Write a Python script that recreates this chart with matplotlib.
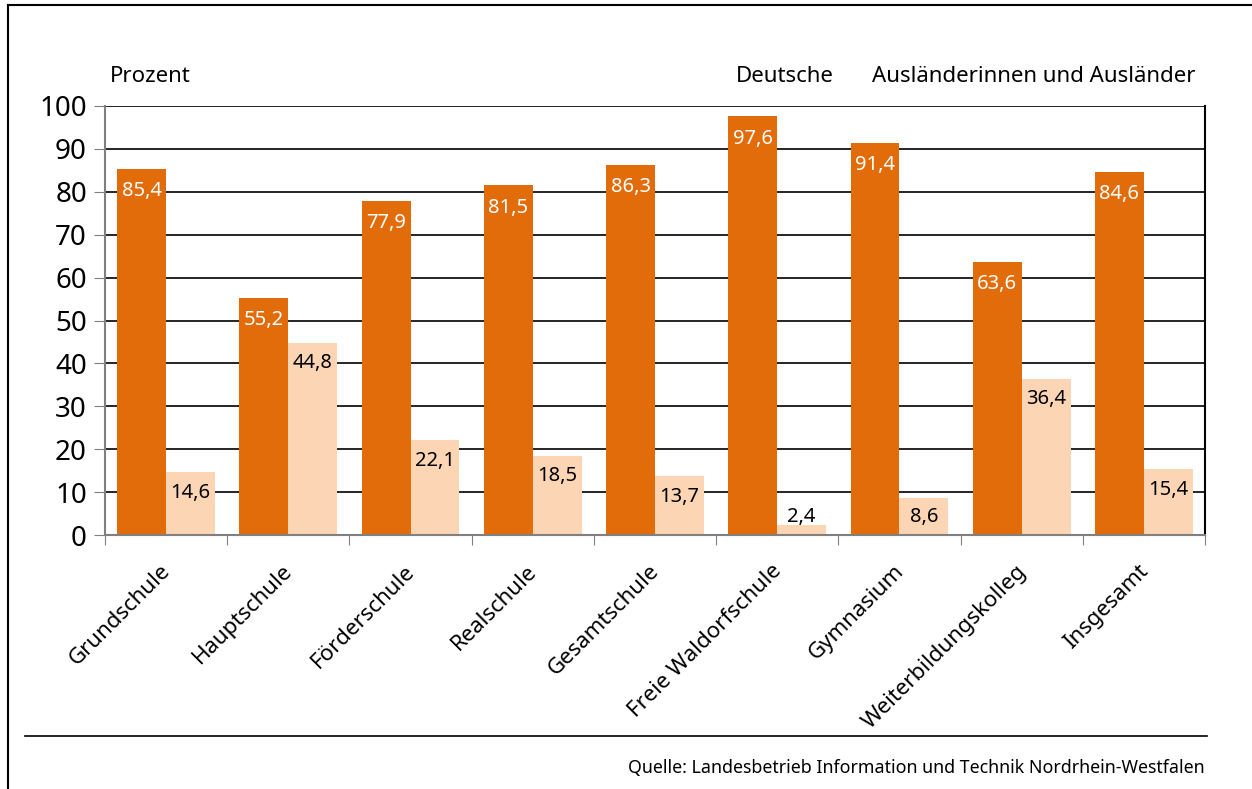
import numpy as np
import matplotlib.pyplot as plt
from matplotlib.lines import Line2D

### Data
schools = ["Grundschule", "Hauptschule", "Förderschule", "Realschule", "Gesamtschule",
           "Freie Waldorfschule", "Gymnasium", "Weiterbildungskolleg", "Insgesamt"]
deutsche = [85.4, 55.2, 77.9, 81.5, 86.3, 97.6, 91.4, 63.6, 84.6]
auslaender = [14.6, 44.8, 22.1, 18.5, 13.7, 2.4, 8.6, 36.4, 15.4]

dark = "#E36C0A"
light = "#FCD5B5"
plt.rcParams['font.family'] = ['Noto Sans', 'DejaVu Sans']

fig = plt.figure(figsize=(12.52, 7.89), dpi=100)
ax = fig.add_axes([105/1252, 1 - 535/789, 1100/1252, 429/789])

### Bars
x = np.arange(len(schools))
w = 0.4
ax.bar(x - w/2, deutsche, w, color=dark, zorder=2)
ax.bar(x + w/2, auslaender, w, color=light, zorder=2)

### Value labels inside the bars
for i in range(len(schools)):
    ax.text(x[i] - w/2, deutsche[i] - 5.2, f"{deutsche[i]:.1f}".replace(".", ","),
            ha="center", va="center", color="white", fontsize=14.5, zorder=3)
    ax.text(x[i] + w/2, max(auslaender[i] - 4.8, 4.2), f"{auslaender[i]:.1f}".replace(".", ","),
            ha="center", va="center", color="black", fontsize=14.5, zorder=3)

### Axes decoration
ax.set_xlim(-0.5, len(schools) - 0.5)
ax.set_ylim(0, 100)
ax.set_yticks(np.arange(0, 101, 10))
ax.tick_params(axis="y", labelsize=20, length=8, color="#808080", pad=5)
ax.yaxis.grid(True, color="black", linewidth=1.2, zorder=0)
ax.set_axisbelow(True)

ax.set_xticks(np.arange(-0.5, len(schools), 1.0))
ax.set_xticklabels([])
ax.tick_params(axis="x", length=7, color="#808080")
for i, s in enumerate(schools):
    ax.text(x[i] - 0.05, -6, s, rotation=45, ha="right", va="top",
            rotation_mode="anchor", fontsize=16)

for side in ["left", "bottom"]:
    ax.spines[side].set_color("#808080")
    ax.spines[side].set_linewidth(1.5)
ax.spines["right"].set_color("black")
ax.spines["right"].set_linewidth(1.5)
ax.spines["top"].set_visible(False)

### Header texts
fig.text(110/1252, 1 - 76/789, "Prozent", fontsize=16, va="center", ha="left")
fig.text(736/1252, 1 - 76/789, "Deutsche", fontsize=16, va="center", ha="left")
fig.text(872/1252, 1 - 76/789, "Ausländerinnen und Ausländer", fontsize=16, va="center", ha="left")

### Frame and footer
fig.add_artist(Line2D([8/1252, 1], [1 - 5/789, 1 - 5/789], color="black", linewidth=1.5))
fig.add_artist(Line2D([8/1252, 8/1252], [0, 1 - 5/789], color="black", linewidth=1.5))
fig.add_artist(Line2D([25/1252, 1207/1252], [1 - 736/789, 1 - 736/789], color="black", linewidth=1.2))
fig.text(1205/1252, 1 - 768/789, "Quelle: Landesbetrieb Information und Technik Nordrhein-Westfalen",
         fontsize=12.8, ha="right", va="center")

fig.savefig("out.png", dpi=100)
